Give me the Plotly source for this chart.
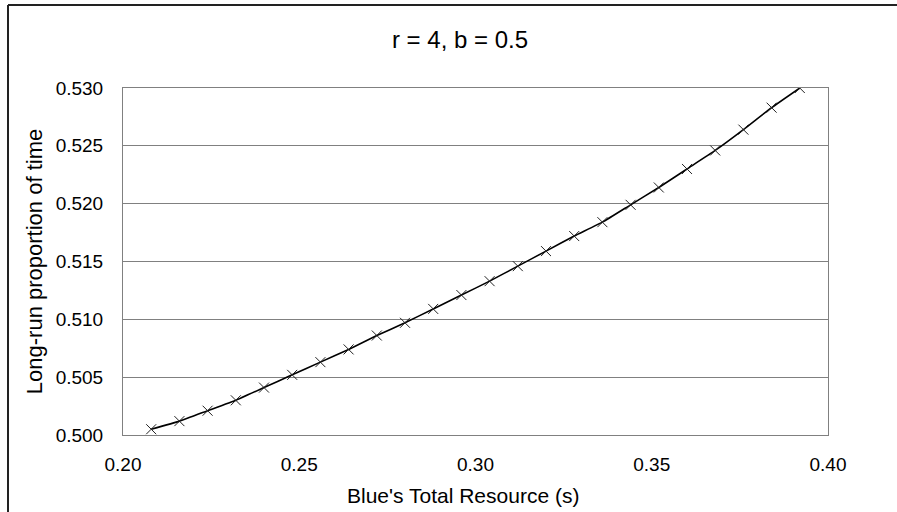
import plotly.graph_objects as go

# Blue's total resource (s) and the long-run proportion of time
resource = [0.208, 0.216, 0.224, 0.232, 0.240, 0.248, 0.256, 0.264,
            0.272, 0.280, 0.288, 0.296, 0.304, 0.312, 0.320, 0.328,
            0.336, 0.344, 0.352, 0.360, 0.368, 0.376, 0.384, 0.392]
proportion = [0.5005, 0.5012, 0.5021, 0.5030, 0.5041, 0.5052, 0.5063, 0.5074,
              0.5086, 0.5097, 0.5109, 0.5121, 0.5133, 0.5146, 0.5159, 0.5172,
              0.5184, 0.5199, 0.5214, 0.5230, 0.5246, 0.5264, 0.5283, 0.5300]

x_ticks = [0.20, 0.25, 0.30, 0.35, 0.40]
x_tick_labels = ["0.20", "0.25", "0.30", "0.35", "0.40"]
y_ticks = [0.500, 0.505, 0.510, 0.515, 0.520, 0.525, 0.530]
y_tick_labels = ["0.500", "0.505", "0.510", "0.515", "0.520", "0.525", "0.530"]

W, H = 897, 512
L, R, T, B = 123, 69, 88, 77
FONT = "Liberation Sans, Arial, sans-serif"

fig = go.Figure()
fig.add_trace(go.Scatter(
    x=resource, y=proportion, mode="lines+markers",
    line=dict(color="black", width=1.6, shape="spline", smoothing=0.4),
    marker=dict(symbol="x-thin", size=10, line=dict(color="#222222", width=1)),
    showlegend=False, hoverinfo="x+y",
))

# outer chart frame (left and top edges)
pw, ph = W - L - R, H - T - B
def px(v):
    return (v - L) / pw
def py(v):
    return (H - B - v) / ph
frame = dict(color="#222222", width=2)
fig.add_shape(type="line", xref="paper", yref="paper",
              x0=px(8), x1=px(8), y0=py(5), y1=py(H + 5), line=frame)
fig.add_shape(type="line", xref="paper", yref="paper",
              x0=px(8), x1=px(W + 5), y0=py(5), y1=py(5), line=frame)

# x-axis title, set slightly left of the plot centre
fig.add_annotation(text="Blue's Total Resource (s)", xref="paper", yref="paper",
                   x=px(463), y=py(495), xanchor="center", yanchor="middle",
                   showarrow=False, font=dict(size=21, family=FONT))

fig.update_layout(
    width=W, height=H,
    margin=dict(l=L, r=R, t=T, b=B, autoexpand=False),
    paper_bgcolor="white", plot_bgcolor="white",
    font=dict(family=FONT, color="black", size=19),
    title=dict(text="r = 4, b = 0.5", x=460 / W, xanchor="center",
               xref="container", y=1 - 40 / H, yanchor="middle",
               yref="container", font=dict(size=24, family=FONT)),
    xaxis=dict(
        range=[0.20, 0.40], tickvals=x_ticks, ticktext=x_tick_labels,
        showgrid=False, zeroline=False,
        showline=True, linecolor="#808080", linewidth=1, mirror=True,
        ticks="", ticklabelstandoff=12,
    ),
    yaxis=dict(
        range=[0.500, 0.530], tickvals=y_ticks, ticktext=y_tick_labels,
        showgrid=True, gridcolor="#808080", gridwidth=1, zeroline=False,
        showline=True, linecolor="#808080", linewidth=1, mirror=True,
        ticks="", ticklabelstandoff=15,
        title=dict(text="Long-run proportion of time", font=dict(size=22),
                   standoff=6),
    ),
)

fig.write_html("out.html")
